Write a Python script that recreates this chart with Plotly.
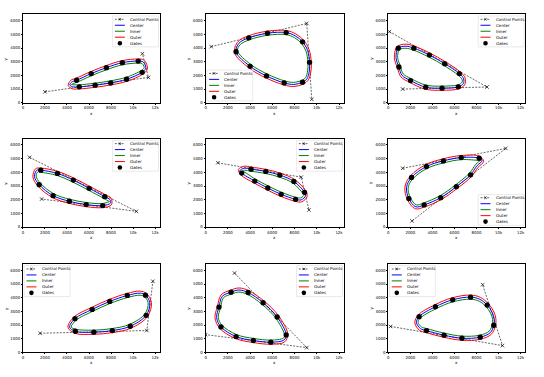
import math
import plotly.graph_objects as go

FIG_W, FIG_H = 544, 377

# ---------------- data ----------------
CONTROL_X = [
    [2000, 11400, 10850],
    [500, 9100, 9550],
    [100, 8950, 1300],
    [600, 10300, 1700],
    [1100, 8600, 9300],
    [1300, 10650, 2150],
    [1550, 11250, 11800],
    [2600, 9100, 0],
    [200, 10350, 8550],
]
CONTROL_Y = [
    [800, 1850, 3580],
    [4100, 5800, 250],
    [5200, 1150, 1000],
    [5100, 1150, 2050],
    [4700, 3650, 1250],
    [4300, 5750, 450],
    [1400, 1600, 5200],
    [5800, 350, 1300],
    [1900, 500, 4950],
]

CENTER_X = [
    [4260, 4420, 4872, 6195, 7579, 9023, 10466, 10890, 11100, 11150, 10827, 9414, 7970, 6556, 5113, 4500],
    [2737, 3008, 3880, 5564, 7248, 8060, 8722, 9173, 9353, 9323, 9113, 8722, 7910, 7068, 5474, 4000],
    [902, 1600, 2316, 3729, 5113, 6436, 6827, 6800, 6346, 4872, 3398, 2015, 1250, 962, 700],
    [1624, 3128, 4571, 6015, 7429, 7900, 7950, 7248, 5744, 4211, 2737, 1474, 1050, 1250],
    [3248, 3080, 3500, 4090, 5414, 6677, 7940, 8902, 9000, 8600, 8090, 6797, 5594, 4421],
    [1865, 1654, 2105, 3459, 4992, 6617, 8241, 8500, 8030, 7459, 6165, 4752, 3248, 2500],
    [4752, 4240, 4722, 6286, 7880, 9474, 10647, 11128, 11519, 11188, 9744, 8120, 6436],
    [2286, 3000, 3820, 5173, 6436, 7248, 7040, 5865, 4301, 2737, 1383, 992, 1203, 1500],
    [2797, 4271, 5835, 7459, 8300, 8962, 9400, 9600, 9564, 9250, 8331, 6677, 5053, 3459, 2917, 2556],
]
CENTER_Y = [
    [1300, 1510, 1645, 2129, 2565, 2928, 3049, 3000, 2760, 2500, 2226, 1718, 1452, 1282, 1161, 1170],
    [3726, 4355, 4742, 5081, 5130, 4890, 4452, 3823, 2952, 2298, 1742, 1500, 1340, 1452, 1960, 2661],
    [3992, 4130, 3992, 3484, 2855, 2129, 1742, 1400, 1161, 1065, 1137, 1621, 2000, 2613, 3300],
    [4162, 3920, 3436, 2831, 2226, 2000, 1750, 1573, 1645, 1887, 2299, 3097, 3700, 4150],
    [3944, 4130, 4300, 4234, 4065, 3799, 3339, 2540, 2300, 1990, 2032, 2395, 2855, 3363],
    [2081, 2903, 3629, 4428, 4839, 5081, 5033, 4850, 4476, 3823, 2952, 2153, 1621, 1480],
    [1548, 1850, 2468, 3145, 3726, 4162, 4331, 4186, 3629, 2710, 1911, 1597, 1476],
    [4404, 4560, 4379, 3629, 2589, 1282, 900, 750, 871, 1161, 1863, 2540, 3315, 4100],
    [2613, 3339, 3847, 4041, 3880, 3460, 2950, 2450, 1984, 1450, 1113, 1040, 1258, 1597, 1742, 2178],
]

GATE_X = [
    [4872, 6195, 7579, 9023, 10466, 10827, 9414, 7970, 6556, 5113],
    [3880, 5564, 7248, 8722, 9353, 8722, 7068, 5474, 4000, 2737],
    [902, 2316, 3729, 5113, 6436, 6346, 4872, 3398, 2015, 962],
    [1624, 3128, 4571, 6015, 7429, 7248, 5744, 4211, 2737, 1474],
    [3248, 4090, 5414, 6677, 7940, 8902, 8090, 6797, 5594, 4421],
    [2105, 3459, 4992, 6617, 8241, 7459, 6165, 4752, 3248, 1865],
    [4722, 6286, 7880, 9474, 11128, 11188, 9744, 8120, 6436, 4752],
    [2286, 3820, 5173, 6436, 7248, 5865, 4301, 2737, 1383, 1203],
    [2797, 4271, 5835, 7459, 8962, 9564, 8331, 6677, 5053, 3459],
]
GATE_Y = [
    [1645, 2129, 2565, 2928, 3049, 2226, 1718, 1452, 1282, 1161],
    [4742, 5081, 5130, 4452, 2952, 1500, 1452, 1960, 2661, 3726],
    [3992, 3992, 3484, 2855, 2129, 1161, 1065, 1137, 1621, 2613],
    [4162, 3920, 3436, 2831, 2226, 1573, 1645, 1887, 2299, 3097],
    [3944, 4234, 4065, 3799, 3339, 2540, 2032, 2395, 2855, 3363],
    [3629, 4428, 4839, 5081, 5033, 3823, 2952, 2153, 1621, 2081],
    [2468, 3145, 3726, 4162, 4186, 2710, 1911, 1597, 1476, 1548],
    [4404, 4379, 3629, 2589, 1282, 750, 871, 1161, 1863, 3315],
    [2613, 3339, 3847, 4041, 3460, 1984, 1113, 1040, 1258, 1597],
]

LEGEND_CORNER = ["ur", "ll", "ur", "ur", "ur", "lr", "ul", "ur", "ul"]
LEGEND_LABELS = ["Control Points", "Center", "Inner", "Outer", "Gates"]

X_TICKS = [0, 2000, 4000, 6000, 8000, 10000, 12000]
Y_TICKS = [0, 1000, 2000, 3000, 4000, 5000, 6000]

# ---------------- style / layout ----------------
TRACK_HALF_WIDTH = 150
X_RANGE = [0, 12420]
Y_RANGE = [0, 6470]
COL_PX = [(22, 159), (205, 343.3), (388, 525.3)]
ROW_PX = [(14.3, 103.3), (139.3, 228.3), (265.3, 354.3)]
FONT = "DejaVu Sans"
C_CENTER, C_INNER, C_OUTER = "#0000ff", "#008000", "#ff0000"
TICK_FONT = dict(size=3.9, color="black")


def offset_loop(xs, ys, d):
    n = len(xs)
    area = sum(xs[i] * ys[(i + 1) % n] - xs[(i + 1) % n] * ys[i] for i in range(n))
    sgn = 1 if area > 0 else -1
    ox, oy, ix, iy = [], [], [], []
    for i in range(n):
        tx = xs[(i + 1) % n] - xs[i - 1]
        ty = ys[(i + 1) % n] - ys[i - 1]
        L = math.hypot(tx, ty)
        nx, ny = sgn * ty / L, -sgn * tx / L
        ox.append(xs[i] + d * nx)
        oy.append(ys[i] + d * ny)
        ix.append(xs[i] - d * nx)
        iy.append(ys[i] - d * ny)
    return (ox, oy), (ix, iy)


def closed(v):
    return list(v) + [v[0]]


fig = go.Figure()
layout = dict(
    width=FIG_W, height=FIG_H,
    margin=dict(l=0, r=0, t=0, b=0),
    paper_bgcolor="white", plot_bgcolor="white",
    showlegend=False,
    font=dict(family=FONT, size=4, color="black"),
)
shapes, annotations = [], []


def px2paper(x, y):
    return x / FIG_W, 1 - y / FIG_H


for k in range(9):
    r, c = divmod(k, 3)
    sfx = "" if k == 0 else str(k + 1)
    xa, ya = "x" + sfx, "y" + sfx
    x0p, x1p = COL_PX[c]
    y0p, y1p = ROW_PX[r]
    layout["xaxis" + sfx] = dict(
        domain=[x0p / FIG_W, x1p / FIG_W], anchor=ya, range=X_RANGE,
        tickvals=X_TICKS, ticks="outside", ticklen=1.3, tickwidth=0.4, tickcolor="black",
        tickfont=TICK_FONT, showgrid=False, zeroline=False,
        showline=True, linecolor="black", linewidth=0.45, mirror=True,
    )
    layout["yaxis" + sfx] = dict(
        domain=[1 - y1p / FIG_H, 1 - y0p / FIG_H], anchor=xa, range=Y_RANGE,
        tickvals=Y_TICKS, ticks="outside", ticklen=1.3, tickwidth=0.4, tickcolor="black",
        tickfont=TICK_FONT, showgrid=False, zeroline=False,
        showline=True, linecolor="black", linewidth=0.45, mirror=True,
    )

    cx, cy = CENTER_X[k], CENTER_Y[k]
    (ox, oy), (ix, iy) = offset_loop(cx, cy, TRACK_HALF_WIDTH)

    fig.add_trace(go.Scatter(
        x=CONTROL_X[k], y=CONTROL_Y[k], mode="lines+markers", xaxis=xa, yaxis=ya,
        line=dict(color="black", width=0.6, dash="2px,1.3px"),
        marker=dict(symbol="x-thin", size=3.5, line=dict(color="black", width=0.7)),
        name="Control Points"))
    for (lx, ly), col, nm in [((cx, cy), C_CENTER, "Center"),
                              ((ix, iy), C_INNER, "Inner"),
                              ((ox, oy), C_OUTER, "Outer")]:
        fig.add_trace(go.Scatter(
            x=closed(lx), y=closed(ly), mode="lines", xaxis=xa, yaxis=ya,
            line=dict(color=col, width=1, shape="spline", smoothing=1, simplify=False),
            name=nm))
    fig.add_trace(go.Scatter(
        x=GATE_X[k], y=GATE_Y[k], mode="markers", xaxis=xa, yaxis=ya,
        marker=dict(color="black", size=5.3, line=dict(width=0)), name="Gates"))

    # axis titles
    annotations.append(dict(text="x", xref=xa + " domain", yref=ya + " domain", x=0.5, y=0,
                            yshift=-10.5, showarrow=False, font=dict(size=4),
                            xanchor="center", yanchor="middle"))
    annotations.append(dict(text="y", xref=xa + " domain", yref=ya + " domain", x=0, y=0.5,
                            xshift=-17, showarrow=False, font=dict(size=4), textangle=-90,
                            xanchor="center", yanchor="middle"))

    # legend (drawn as decoration)
    LW, LH, PADX, PADY = 46, 31, 1.2, 1.8
    corner = LEGEND_CORNER[k]
    bx0 = x1p - PADX - LW if corner[1] == "r" else x0p + PADX
    by0 = y0p + PADY if corner[0] == "u" else y1p - PADY - LH
    p0 = px2paper(bx0, by0)
    p1 = px2paper(bx0 + LW, by0 + LH)
    shapes.append(dict(type="rect", xref="paper", yref="paper", x0=p0[0], y0=p1[1], x1=p1[0], y1=p0[1],
                       line=dict(color="#d5d5d5", width=0.5), fillcolor="rgba(255,255,255,0.85)"))
    for j, lab in enumerate(LEGEND_LABELS):
        yy = by0 + 3.3 + 6 * j
        la, lb = px2paper(bx0 + 2.3, yy), px2paper(bx0 + 12.3, yy)
        mx = bx0 + 7.3
        if j == 0:
            shapes.append(dict(type="line", xref="paper", yref="paper", x0=la[0], y0=la[1], x1=lb[0], y1=lb[1],
                               line=dict(color="black", width=0.6, dash="2px,1.3px")))
            for s in (1, -1):
                a, b = px2paper(mx - 1.2, yy - 1.2 * s), px2paper(mx + 1.2, yy + 1.2 * s)
                shapes.append(dict(type="line", xref="paper", yref="paper", x0=a[0], y0=a[1], x1=b[0], y1=b[1],
                                   line=dict(color="black", width=0.7)))
        elif j < 4:
            col = [C_CENTER, C_INNER, C_OUTER][j - 1]
            shapes.append(dict(type="line", xref="paper", yref="paper", x0=la[0], y0=la[1], x1=lb[0], y1=lb[1],
                               line=dict(color=col, width=1)))
        else:
            a, b = px2paper(mx - 2.3, yy - 2.3), px2paper(mx + 2.3, yy + 2.3)
            shapes.append(dict(type="circle", xref="paper", yref="paper", x0=a[0], y0=b[1], x1=b[0], y1=a[1],
                               line=dict(width=0), fillcolor="black"))
        tp = px2paper(bx0 + 15.5, yy)
        annotations.append(dict(text=lab, xref="paper", yref="paper", x=tp[0], y=tp[1], showarrow=False,
                                xanchor="left", yanchor="middle", font=dict(size=4.1, color="black")))

layout["shapes"] = shapes
layout["annotations"] = annotations
fig.update_layout(**layout)
fig.write_html("out.html")
